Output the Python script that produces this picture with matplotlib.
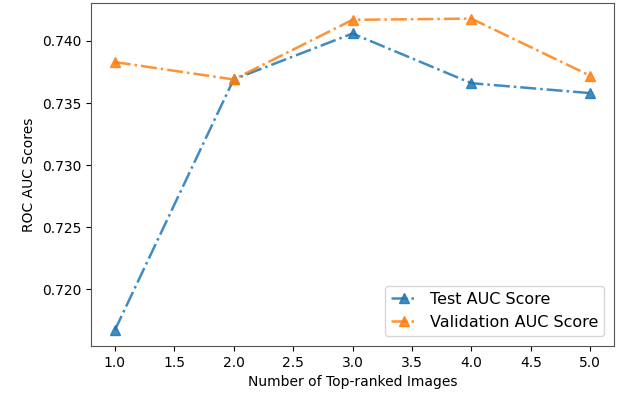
import matplotlib
matplotlib.use('Agg')
import matplotlib.pyplot as plt

# data
top_ranked = [1, 2, 3, 4, 5]
test_auc = [0.7167, 0.7369, 0.7406, 0.7366, 0.7358]
val_auc = [0.7383, 0.7369, 0.7417, 0.7418, 0.7372]

W, H = 618, 396
fig = plt.figure(figsize=(W / 100, H / 100), dpi=100)
ax = fig.add_axes([91 / W, 1 - 346 / H, (614 - 91) / W, (346 - 3) / H])

ax.plot(top_ranked, test_auc, linestyle='-.', marker='^', color='tab:blue',
        alpha=0.85, linewidth=1.8, markersize=7, label='Test AUC Score')
ax.plot(top_ranked, val_auc, linestyle='-.', marker='^', color='tab:orange',
        alpha=0.85, linewidth=1.8, markersize=7, label='Validation AUC Score')

for side in ax.spines.values():
    side.set_color('#555555')

ax.set_xlabel('Number of Top-ranked Images')
ax.set_ylabel('ROC AUC Scores')
ax.legend(loc='lower right', fontsize=11.5, handlelength=1.6, borderaxespad=0.6)

fig.savefig('out.png', dpi=100)
